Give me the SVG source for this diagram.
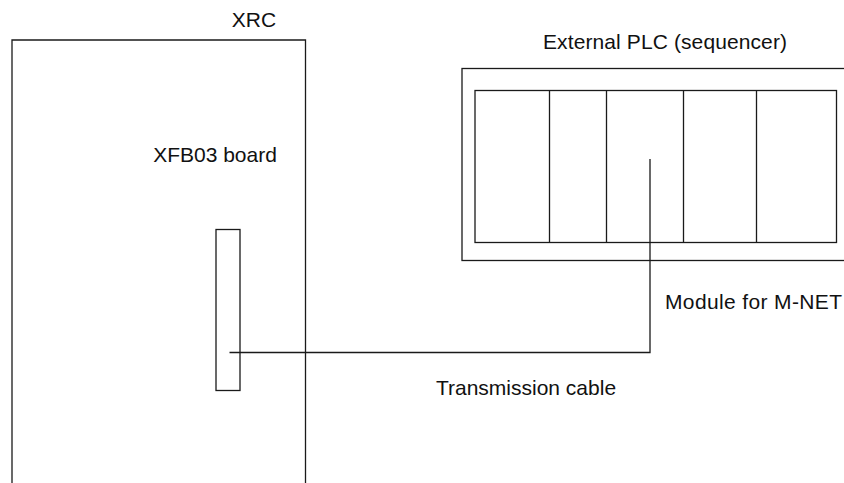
<svg xmlns="http://www.w3.org/2000/svg" width="844" height="483" viewBox="0 0 844 483">
<style>
.ln{fill:none;stroke:#1a1a1a;stroke-width:1.3}
.tx{font-family:"Liberation Sans",Arial,sans-serif;font-size:21px;fill:#111}
</style>
<rect width="844" height="483" fill="#fff"/>
<g id="xrc">
<path class="ln" d="M12,483 V40 H305.5 V483"/>
<text class="tx" x="254" y="27" text-anchor="middle">XRC</text>
</g>
<g id="xfb03">
<rect class="ln" x="216" y="229.5" width="24" height="161"/>
<text class="tx" x="215" y="162" text-anchor="middle">XFB03 board</text>
</g>
<g id="plc">
<rect class="ln" x="462" y="68.5" width="385" height="192"/>
<rect class="ln" x="475" y="90.5" width="361.5" height="152"/>
<path class="ln" d="M549.5,90.5 V242.5 M606.5,90.5 V242.5 M683.5,90.5 V242.5 M756.5,90.5 V242.5"/>
<text class="tx" x="665" y="48.5" text-anchor="middle" textLength="244">External PLC (sequencer)</text>
</g>
<g id="module-label">
<text class="tx" x="665" y="308.5" textLength="177">Module for M-NET</text>
</g>
<g id="connectors">
<path class="ln" d="M229.5,352.5 H650 V159"/>
<text class="tx" x="526" y="395" text-anchor="middle">Transmission cable</text>
</g>
</svg>
